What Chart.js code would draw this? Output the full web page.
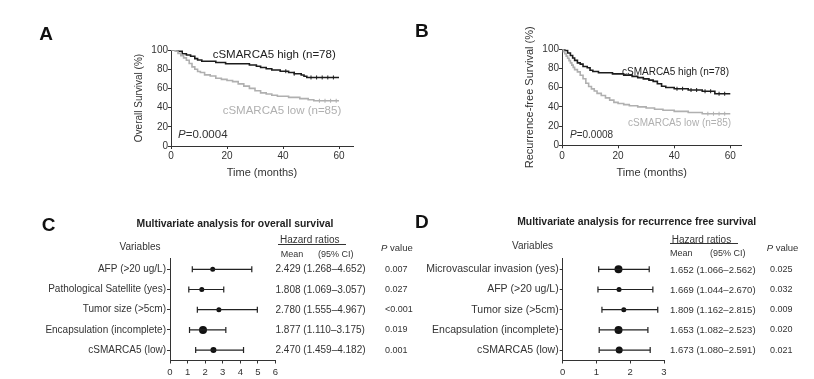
<!DOCTYPE html>
<html>
<head>
<meta charset="utf-8">
<script src="https://cdn.jsdelivr.net/npm/chart.js@4.4.0/dist/chart.umd.min.js"></script>
<style>
  html, body { margin: 0; padding: 0; background: #fff; }
  #wrap { position: relative; width: 814px; height: 379px; overflow: hidden; background: #fff; }
  canvas { position: absolute; left: 0; top: 0; }
  .t { position: absolute; white-space: nowrap; line-height: 1; color: #333;
       font-family: 'Liberation Sans', Arial, sans-serif; }
  .rule { position: absolute; height: 0; border-top: 1px solid #333; }
</style>
</head>
<body>
<div id="wrap">
  <canvas id="cA" width="814" height="379"></canvas>
  <canvas id="cB" width="814" height="379"></canvas>
  <canvas id="cC" width="814" height="379"></canvas>
  <canvas id="cD" width="814" height="379"></canvas>
</div>
<script>
// ---------------- DATA ----------------
// Panel A: overall survival (Kaplan-Meier), months vs %
const aHighT = [0, 2.5, 4, 5.5, 7, 8.5, 9.5, 11, 16, 19.5, 28, 30.5, 32, 34, 36, 39, 42, 44, 46.5, 47.5, 48.5, 60];
const aHighS = [100, 98.7, 96.1, 94.8, 93.5, 91, 89.6, 88.3, 87, 85.7, 84.4, 83.1, 81.8, 80.5, 79.2, 77.9, 76.6, 75.3, 74, 72.7, 71.4, 71.4];
const aLowT = [0, 1.5, 2.5, 3.5, 4.5, 5.5, 6.5, 7.5, 8.5, 9.5, 10.5, 12, 14, 16, 18, 20, 22, 24, 26, 28, 30, 32, 34, 36, 38, 42, 46, 49, 51, 60];
const aLowS = [100, 98.8, 96.5, 94.1, 91.8, 89.4, 85.9, 82.4, 80, 77.6, 76.5, 74.1, 72.9, 70.6, 69.4, 68.2, 67.1, 64.7, 62.4, 60, 57.6, 55.3, 54.1, 52.9, 51.8, 50.6, 49.4, 48.2, 47.1, 47.1];
// censored times (tick marks)
const aHighCens = [41, 44, 50, 52, 54, 56, 58];
const aLowCens = [53, 55, 57, 59];
// Panel B: recurrence-free survival
const bHighT = [0, 1, 2, 3, 3.8, 4.5, 5.5, 6.5, 7.5, 9, 10, 11, 13, 18, 22, 25, 27, 29, 31, 32.5, 34, 35.5, 37, 40, 45, 50, 54.5, 60];
const bHighS = [100, 98.7, 96.2, 93.6, 91, 88.5, 85.9, 84.6, 82.1, 80.8, 78.2, 76.9, 75.6, 74.4, 73.1, 71.8, 70.5, 69.2, 67.9, 66.6, 64.1, 61.5, 60.2, 58.9, 57.6, 56.3, 53.7, 53.7];
const bLowT = [0, 0.5, 1, 1.5, 2, 2.5, 3, 3.5, 4, 4.5, 5.5, 6.5, 7.5, 8.5, 9.5, 10.5, 11.5, 12.5, 14, 15.5, 17, 18.5, 20, 22, 24, 27, 30, 33, 36, 40, 45, 50, 60];
const bLowS = [100, 97.6, 95.3, 92.9, 90.6, 88.2, 85.9, 83.5, 81.2, 78.8, 76.5, 72.9, 69.4, 64.7, 61.2, 58.8, 56.5, 54.1, 51.8, 49.4, 47.1, 44.7, 43.5, 42.4, 41.2, 40, 38.8, 37.6, 36.5, 35.3, 34.1, 32.9, 32.9];
const bHighCens = [41, 43, 46, 48, 51, 53, 56, 58];
const bLowCens = [52, 54, 56, 58];
const kmXTicks = [0, 20, 40, 60];
const kmYTicks = [0, 20, 40, 60, 80, 100];
const highLabel = 'cSMARCA5 high (n=78)';
const lowLabel = 'cSMARCA5 low (n=85)';
const pA = '0.0004';
const pB = '0.0008';

// Panel C: multivariate, overall survival
const cVars = ['AFP (>20 ug/L)', 'Pathological Satellite (yes)', 'Tumor size (>5cm)', 'Encapsulation (incomplete)', 'cSMARCA5 (low)'];
const cMean = [2.429, 1.808, 2.780, 1.877, 2.470];
const cLow  = [1.268, 1.069, 1.555, 1.110, 1.459];
const cHigh = [4.652, 3.057, 4.967, 3.175, 4.182];
const cP    = ['0.007', '0.027', '<0.001', '0.019', '0.001'];
const cXTicks = [0, 1, 2, 3, 4, 5, 6];
// Panel D: multivariate, recurrence free survival
const dVars = ['Microvascular invasion (yes)', 'AFP (>20 ug/L)', 'Tumor size (>5cm)', 'Encapsulation (incomplete)', 'cSMARCA5 (low)'];
const dMean = [1.652, 1.669, 1.809, 1.653, 1.673];
const dLow  = [1.066, 1.044, 1.162, 1.082, 1.080];
const dHigh = [2.562, 2.670, 2.815, 2.523, 2.591];
const dP    = ['0.025', '0.032', '0.009', '0.020', '0.021'];
const dXTicks = [0, 1, 2, 3];

// ---------------- STYLE ----------------
const FONT = "'Liberation Sans', Arial, sans-serif";
Chart.defaults.font.family = FONT;
Chart.defaults.color = '#333';
const AX = '#333';
const HIGH_COL = '#1c1c1c';
const LOW_COL = '#b0b0b0';
const cDot = [2.5, 2.5, 2.5, 4, 3];
const dDot = [4, 2.5, 2.5, 4, 3.5];

const wrap = document.getElementById('wrap');
function addText(html, x, cy, o) {
  o = o || {};
  const fs = o.size || 10;
  const d = document.createElement('div');
  d.className = 't';
  d.innerHTML = html;
  d.style.fontSize = fs + 'px';
  d.style.top = (cy - 0.49 * fs) + 'px';
  d.style.left = x + 'px';
  if (o.bold) d.style.fontWeight = 'bold';
  if (o.color) d.style.color = o.color;
  if (o.align === 'center') d.style.transform = 'translateX(-50%)';
  if (o.align === 'right') d.style.transform = 'translateX(-100%)';
  wrap.appendChild(d);
  return d;
}
function addRule(x1, x2, y) {
  const d = document.createElement('div');
  d.className = 'rule';
  d.style.left = x1 + 'px'; d.style.width = (x2 - x1) + 'px'; d.style.top = y + 'px';
  wrap.appendChild(d);
}
const pts = (T, S) => T.map((t, i) => ({ x: t, y: S[i] }));
// survival level of a step curve at time t (lookup in the data arrays)
function levelAt(T, S, t) { let v = S[0]; T.forEach((tt, i) => { if (tt <= t) v = S[i]; }); return v; }
const censPts = (C, T, S) => C.map(t => ({ x: t, y: levelAt(T, S, t) }));
const fixTicks = arr => s => { s.ticks = arr.map(v => ({ value: v })); };

function kmChart(id, pad, yW, xH, xMax, hiT, hiS, loT, loS, hiC, loC, yTitle, yTitleSize) {
  const cens = (data, col) => ({ data, showLine: false, pointStyle: 'line', rotation: 90,
    pointRadius: 2, pointBorderColor: col, pointBorderWidth: 1 });
  return new Chart(document.getElementById(id), {
    type: 'scatter',
    data: {
      datasets: [
        { data: pts(loT, loS), showLine: true, stepped: 'before', borderColor: LOW_COL, borderWidth: 1.6, pointRadius: 0, fill: false },
        cens(censPts(loC, loT, loS), LOW_COL),
        { data: pts(hiT, hiS), showLine: true, stepped: 'before', borderColor: HIGH_COL, borderWidth: 1.6, pointRadius: 0, fill: false },
        cens(censPts(hiC, hiT, hiS), HIGH_COL)
      ]
    },
    options: {
      responsive: false, animation: false, events: [],
      layout: { padding: pad },
      plugins: { legend: { display: false }, tooltip: { enabled: false } },
      scales: {
        x: {
          type: 'linear', min: 0, max: xMax,
          afterBuildTicks: fixTicks(kmXTicks),
          afterFit: s => { s.height = xH; },
          grid: { drawOnChartArea: false, tickLength: 3, color: AX },
          border: { color: AX, width: 1 },
          ticks: { font: { size: 10 }, padding: 1.7, color: '#333', maxRotation: 0 },
          title: { display: true, text: 'Time (months)', font: { size: 11 }, padding: 0, color: '#333' }
        },
        y: {
          type: 'linear', min: 0, max: 100,
          afterBuildTicks: fixTicks(kmYTicks),
          afterFit: s => { s.width = yW; },
          grid: { drawOnChartArea: false, tickLength: 3, color: AX },
          border: { color: AX, width: 1 },
          ticks: { font: { size: 10 }, padding: 0, color: '#333' },
          title: { display: true, text: yTitle, font: { size: yTitleSize }, padding: 0, color: '#333' }
        }
      }
    }
  });
}

function forestChart(id, pad, yW, xH, xMax, xTicks, vars, mean, lo, hi, dot, labSize) {
  const ds = vars.map((v, i) => ({
    data: [{ x: lo[i], y: i + 1 }, { x: hi[i], y: i + 1 }],
    showLine: true, borderColor: '#222', borderWidth: 1.2,
    pointStyle: 'line', rotation: 90, pointRadius: 3,
    pointBorderColor: '#222', pointBorderWidth: 1.2
  }));
  ds.push({
    data: mean.map((m, i) => ({ x: m, y: i + 1 })),
    showLine: false, pointStyle: 'circle', pointRadius: dot,
    pointBackgroundColor: '#111', pointBorderColor: '#111', pointBorderWidth: 0
  });
  return new Chart(document.getElementById(id), {
    type: 'scatter',
    data: { datasets: ds },
    options: {
      responsive: false, animation: false, events: [],
      layout: { padding: pad },
      plugins: { legend: { display: false }, tooltip: { enabled: false } },
      scales: {
        x: {
          type: 'linear', min: 0, max: xMax,
          afterBuildTicks: fixTicks(xTicks),
          afterFit: s => { s.height = xH; },
          grid: { drawOnChartArea: false, tickLength: 3, color: AX },
          border: { color: AX, width: 1 },
          ticks: { font: { size: 9.5 }, padding: 2.8, color: '#333', maxRotation: 0 }
        },
        y: {
          type: 'linear', reverse: true, min: 0.455, max: 5.515,
          afterBuildTicks: fixTicks(vars.map((v, i) => i + 1)),
          afterFit: s => { s.width = yW; },
          grid: { drawOnChartArea: false, tickLength: 3, color: AX },
          border: { color: AX, width: 1 },
          ticks: { font: { size: labSize }, padding: 1, color: '#333', autoSkip: false,
                   callback: (v, i) => vars[i] }
        }
      }
    }
  });
}

// ---------------- CHARTS ----------------
const chA = kmChart('cA', { left: 133, top: 50, right: 461, bottom: 199.7 }, 38, 33.3, 65,
  aHighT, aHighS, aLowT, aLowS, aHighCens, aLowCens, 'Overall Survival (%)', 10);
const chB = kmChart('cB', { left: 523, top: 49.3, right: 72.5, bottom: 199.7 }, 39, 34, 64,
  bHighT, bHighS, bLowT, bLowS, bHighCens, bLowCens, 'Recurrence-free Survival (%)', 11);
const chC = forestChart('cC', { left: 30, top: 258.3, right: 538.5, bottom: 0.5 }, 140, 18, 6, cXTicks,
  cVars, cMean, cLow, cHigh, cDot, 10);
const chD = forestChart('cD', { left: 422.7, top: 258.3, right: 150, bottom: 0.5 }, 140, 18, 3, dXTicks,
  dVars, dMean, dLow, dHigh, dDot, 10.5);

// ---------------- TEXT ----------------
addText('A', 39.3, 33, { size: 19, bold: true, color: '#111' });
addText('B', 415, 30.3, { size: 19, bold: true, color: '#111' });
addText('C', 41.7, 224.8, { size: 19, bold: true, color: '#111' });
addText('D', 415, 221.7, { size: 19, bold: true, color: '#111' });

addText(highLabel, 212.7, 55, { size: 11.5, color: '#222' });
addText(lowLabel, 222.7, 111, { size: 11.5, color: LOW_COL });
addText('<i>P</i>=' + pA, 178, 134.3, { size: 11.5 });
addText(highLabel, 622, 71.7, { size: 10, color: '#222' });
addText(lowLabel, 628, 123.3, { size: 10, color: LOW_COL });
addText('<i>P</i>=' + pB, 570, 135, { size: 10 });

function fmt(v) { return v.toFixed(3); }
function forestText(ch, vars, mean, lo, hi, p, o) {
  const ys = ch.scales.y;
  addText(o.title, o.titleX, o.titleY, { size: 10.4, bold: true, align: 'center', color: '#222' });
  addText('Variables', o.varX, o.varY, { size: 10, align: 'center' });
  addText('Hazard ratios', o.hrX, o.hrY, { size: 10 });
  addRule(o.ruleX1, o.ruleX2, o.ruleY);
  addText('Mean', o.meanX, o.meanY, { size: 9 });
  addText('(95% CI)', o.ciX, o.meanY, { size: 9 });
  addText('<i>P</i> value', o.pHeadX, o.pHeadY, { size: 9.5 });
  vars.forEach((v, i) => {
    const y = ys.getPixelForValue(i + 1);
    addText(fmt(mean[i]) + ' (' + fmt(lo[i]) + '\u2013' + fmt(hi[i]) + ')', o.valX, y, { size: o.valSize });
    addText(p[i], o.pX, y, { size: 9 });
  });
}
forestText(chC, cVars, cMean, cLow, cHigh, cP, {
  title: 'Multivariate analysis for overall survival', titleX: 235, titleY: 224,
  varX: 140, varY: 246.7, hrX: 280, hrY: 240, ruleX1: 278, ruleX2: 346, ruleY: 244,
  meanX: 280.7, ciX: 318, meanY: 254, pHeadX: 381, pHeadY: 248,
  valX: 275.5, valSize: 10, pX: 385
});
forestText(chD, dVars, dMean, dLow, dHigh, dP, {
  title: 'Multivariate analysis for recurrence free survival', titleX: 636.7, titleY: 222.3,
  varX: 532.5, varY: 245.7, hrX: 671.7, hrY: 239.7, ruleX1: 670, ruleX2: 738, ruleY: 243,
  meanX: 670, ciX: 710, meanY: 253, pHeadX: 766.7, pHeadY: 247.3,
  valX: 670, valSize: 9.5, pX: 770
});
</script>
</body>
</html>
